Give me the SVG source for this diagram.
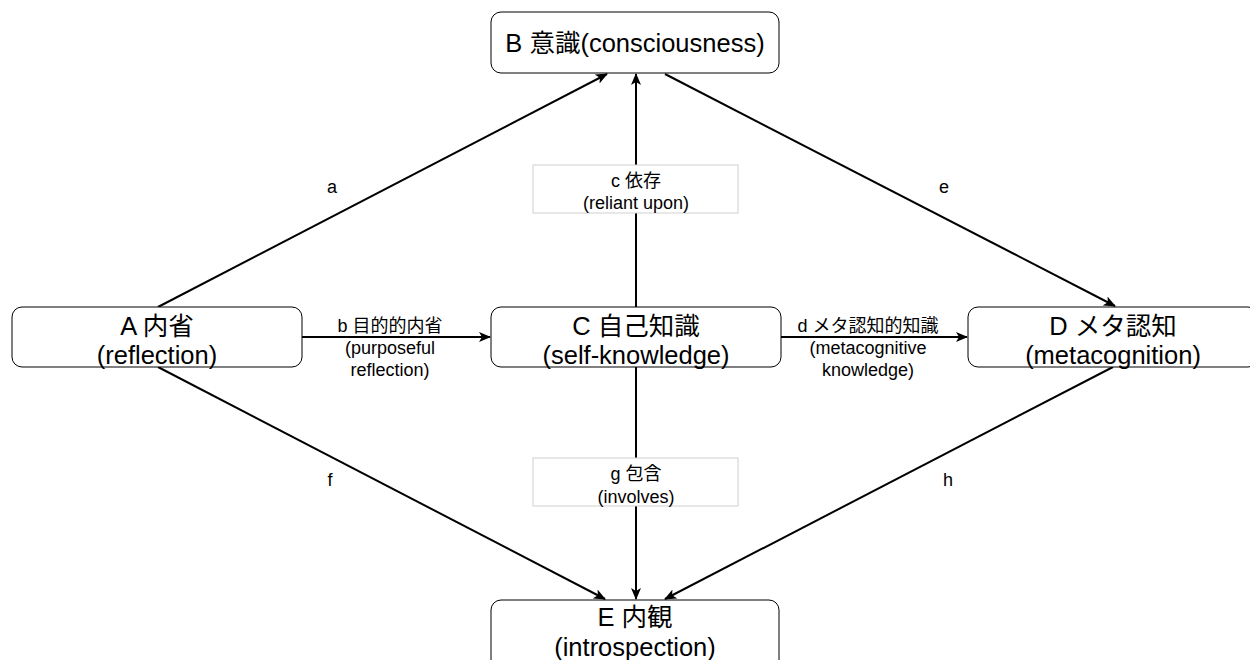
<svg xmlns="http://www.w3.org/2000/svg" width="1250" height="660" viewBox="0 0 1250 660">
<style>
.node{fill:#fff;stroke:#000;stroke-width:1}
.nt{font-family:"Liberation Sans","Noto Sans CJK JP",sans-serif;font-size:25.5px;fill:#000;text-anchor:middle}
.lt{font-family:"Liberation Sans","Noto Sans CJK JP",sans-serif;font-size:18px;fill:#000;text-anchor:middle}
.edge{stroke:#000;stroke-width:2;fill:none;marker-end:url(#arr)}
.lbox{fill:#fff;stroke:#d0d0d0;stroke-width:1}
</style>
<defs>
<marker id="arr" viewBox="0 0 12 10" refX="11" refY="5" markerWidth="6" markerHeight="5" markerUnits="strokeWidth" orient="auto">
<path d="M0,0 L12,5 L0,10 L3,5 Z" fill="#000"/>
</marker>
</defs>
<rect width="1250" height="660" fill="#fff"/>
<g id="connectors">
<g id="edge-a"><line class="edge" x1="158" y1="307" x2="607" y2="74"/><text class="lt" x="332" y="193">a</text></g>
<g id="edge-e"><line class="edge" x1="665" y1="74" x2="1115" y2="306"/><text class="lt" x="944" y="193">e</text></g>
<g id="edge-c"><line class="edge" x1="636" y1="307" x2="636" y2="74"/><rect class="lbox" x="533" y="165" width="205" height="48"/><text class="lt" x="636" y="187">c 依存</text><text class="lt" x="636" y="209">(reliant upon)</text></g>
<g id="edge-b"><line class="edge" x1="302" y1="337" x2="490" y2="337"/><text class="lt" x="390" y="332">b 目的的内省</text><text class="lt" x="390" y="354">(purposeful</text><text class="lt" x="390" y="376">reflection)</text></g>
<g id="edge-d"><line class="edge" x1="781" y1="337" x2="967" y2="337"/><text class="lt" x="868" y="332">d メタ認知的知識</text><text class="lt" x="868" y="354">(metacognitive</text><text class="lt" x="868" y="376">knowledge)</text></g>
<g id="edge-f"><line class="edge" x1="158" y1="367" x2="605" y2="599"/><text class="lt" x="330" y="486">f</text></g>
<g id="edge-g"><line class="edge" x1="636" y1="367" x2="636" y2="599"/><rect class="lbox" x="533" y="458" width="205" height="48"/><text class="lt" x="636" y="480">g 包含</text><text class="lt" x="636" y="503">(involves)</text></g>
<g id="edge-h"><line class="edge" x1="1113" y1="367" x2="665" y2="599"/><text class="lt" x="948" y="486">h</text></g>
</g>
<g id="node-B"><rect class="node" x="491" y="12" width="288" height="61" rx="10"/><text class="nt" x="635" y="52">B 意識(consciousness)</text></g>
<g id="node-A"><rect class="node" x="12" y="307" width="290" height="60" rx="10"/><text class="nt" x="157" y="335">A 内省</text><text class="nt" x="157" y="364">(reflection)</text></g>
<g id="node-C"><rect class="node" x="491" y="307" width="290" height="60" rx="10"/><text class="nt" x="636" y="335">C 自己知識</text><text class="nt" x="636" y="364">(self-knowledge)</text></g>
<g id="node-D"><rect class="node" x="968" y="307" width="290" height="60" rx="10"/><text class="nt" x="1113" y="335">D メタ認知</text><text class="nt" x="1113" y="364">(metacognition)</text></g>
<g id="node-E"><rect class="node" x="491" y="600" width="288" height="70" rx="10"/><text class="nt" x="635" y="626">E 内観</text><text class="nt" x="635" y="656">(introspection)</text></g>
</svg>
